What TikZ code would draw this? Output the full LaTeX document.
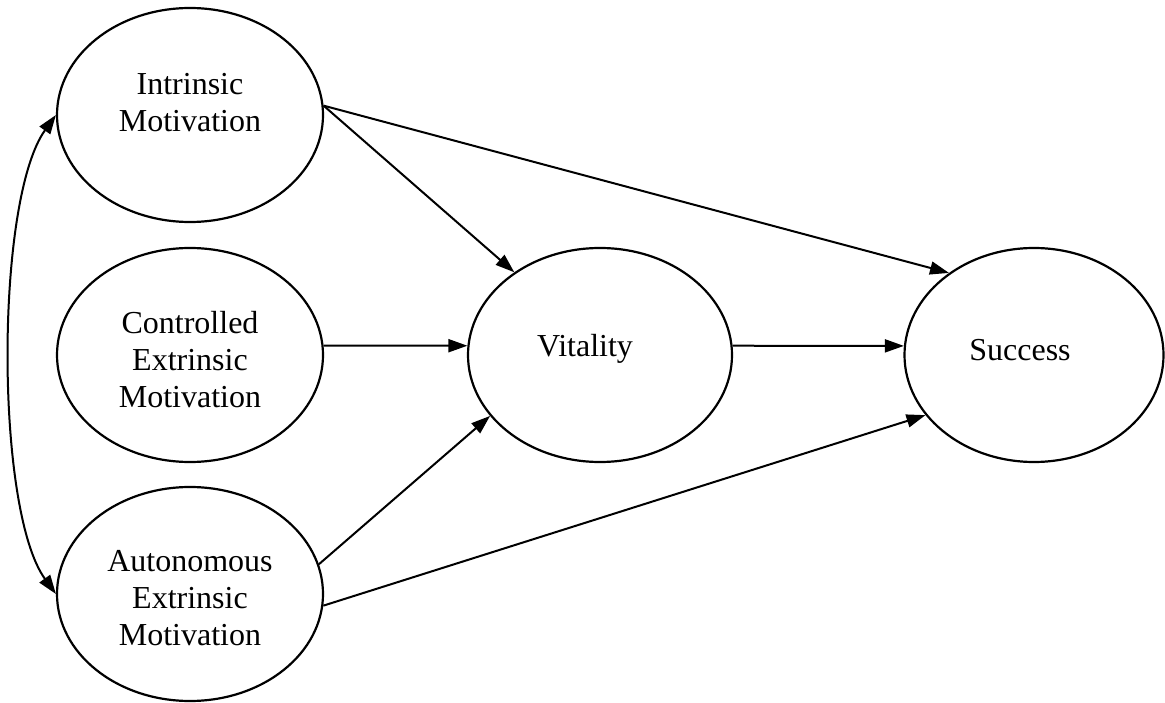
\documentclass[tikz,border=0pt]{standalone}
\usepackage{fontspec}
\setmainfont{Liberation Serif}
\usetikzlibrary{shapes.geometric,arrows.meta}
\begin{document}
\begin{tikzpicture}[x=1pt,y=-1pt,
  oval/.style={draw,ellipse,line width=2.2pt,inner sep=0pt,minimum height=214pt},
  lbl/.style={align=center,inner sep=0pt,font=\fontsize{32}{37}\selectfont},
  conn/.style={line width=2pt,-{Triangle[length=19pt,width=13pt]}},
  bothconn/.style={line width=2pt,{Triangle[length=19pt,width=13pt]}-{Triangle[length=19pt,width=13pt]}}]
\useasboundingbox (0,0) rectangle (1165,703);
\node[oval,minimum width=266pt] (i) at (190,115) {};
\node[oval,minimum width=266pt] (c) at (190,355) {};
\node[oval,minimum width=266pt] (a) at (190,594) {};
\node[oval,minimum width=264pt] (v) at (600,355) {};
\node[oval,minimum width=259pt] (s) at (1034,355) {};
\node[lbl] (ti) at (190,103) {Intrinsic\\Motivation};
\node[lbl] (tc) at (190,360) {Controlled\\Extrinsic\\Motivation};
\node[lbl] (ta) at (190,598) {Autonomous\\Extrinsic\\Motivation};
\node[lbl] (tv) at (585,349) {Vitality};
\node[lbl] (ts) at (1020,350) {Success};
\draw[conn] (i.4) -- (v.136);
\draw[conn] (i.4) -- (s.136);
\draw[conn] (c.4) -- (v.176);
\draw[conn] (v.4) -- (s.176);
\draw[conn] (a.13) -- (v.209);
\draw[conn] (a.355) -- (s.209);
\draw[bothconn] (i.west) .. controls (-5,200) and (-5,510) .. (a.west);
\end{tikzpicture}
\end{document}
